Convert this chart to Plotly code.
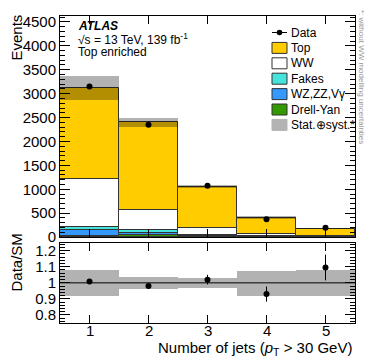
import plotly.graph_objects as go

# number of jets bins
njets = [1, 2, 3, 4, 5]
njets_labels = ["1", "2", "3", "4", "5"]

# stacked SM predictions (events), bottom to top
drell_yan = [25, 38, 10, 5, 3]
wz_zz_vg = [125, 56, 20, 6, 4]
fakes = [70, 56, 15, 6, 3]
ww = [987, 415, 139, 38, 18]
top = [1914, 1835, 868, 345, 150]

# observed data
data = [3149, 2352, 1073, 372, 195]
data_rel_err = [0.015, 0.015, 0.03, 0.047, 0.08]

# relative stat+syst uncertainty (without WW modelling)
unc_rel = [0.083, 0.038, 0.032, 0.078, 0.083]

FONT = "Liberation Sans, Arial, sans-serif"
BAND = "rgba(0,0,0,0.3)"

components = [
    ("Drell-Yan", drell_yan, "#339900"),
    ("WZ,ZZ,Vγ", wz_zz_vg, "#3399ff"),
    ("Fakes", fakes, "#44e3dc"),
    ("WW", ww, "#ffffff"),
    ("Top", top, "#ffcc00"),
]

# the page body has an 8px margin, so the figure is shifted by that much
OFF = 8
W, H = 374 - OFF, 363 - OFF
# plot area in window pixels
L, R, T, B = 60, 355, 16, 323


def px(x):
    return (x - L) / (R - L)


def py(y):
    return (B - y) / (B - T)


fig = go.Figure()

base = [0.0] * len(njets)
for name, vals, col in components:
    fig.add_trace(go.Bar(
        x=njets, y=vals, base=list(base), width=1, name=name, showlegend=False,
        marker=dict(color=col, line=dict(color="#333333", width=1)),
        xaxis="x", yaxis="y",
    ))
    base = [b + v for b, v in zip(base, vals)]
total = base

# uncertainty band on the stack
err = [t * u for t, u in zip(total, unc_rel)]
fig.add_trace(go.Bar(
    x=njets, y=[2 * e for e in err], base=[t - e for t, e in zip(total, err)],
    width=1, showlegend=False, marker=dict(color=BAND, line=dict(width=0)),
    xaxis="x", yaxis="y",
))

# data in main panel
fig.add_trace(go.Scatter(
    x=njets, y=data, mode="markers", showlegend=False,
    marker=dict(color="black", size=6),
    error_y=dict(type="data", array=[d * r for d, r in zip(data, data_rel_err)],
                 color="black", thickness=1, width=0),
    xaxis="x", yaxis="y",
))

# ratio panel
ratio = [d / t for d, t in zip(data, total)]
fig.add_trace(go.Bar(
    x=njets, y=[2 * u for u in unc_rel], base=[1 - u for u in unc_rel], width=1,
    marker=dict(color=BAND, line=dict(width=0)), showlegend=False,
    xaxis="x2", yaxis="y2",
))
fig.add_trace(go.Scatter(
    x=njets, y=ratio, mode="markers", showlegend=False,
    marker=dict(color="black", size=6),
    error_y=dict(type="data", array=data_rel_err, color="black", thickness=1, width=0),
    xaxis="x2", yaxis="y2",
))

common_x = dict(range=[0.5, 5.5], tickvals=njets, ticks="inside", ticklen=8,
                showline=True, linecolor="black", linewidth=1, mirror="allticks",
                showgrid=False, zeroline=False, tickcolor="black", automargin=False,
                showticklabels=False)
common_y = dict(ticks="inside", ticklen=10, showline=True, linecolor="black",
                linewidth=1, mirror="allticks", showgrid=False, zeroline=False,
                tickcolor="black", automargin=False)

shapes = [dict(type="line", xref="x2 domain", yref="y2", x0=0, x1=1, y0=1, y1=1,
               line=dict(color="black", width=1))]

# legend drawn by hand (ROOT-style compact spacing)
leg_entries = [("Data", None), ("Top", "#ffcc00"), ("WW", "#ffffff"),
               ("Fakes", "#44e3dc"), ("WZ,ZZ,Vγ", "#3399ff"),
               ("Drell-Yan", "#339900"), ("Stat.⊕syst.*", "#b3b3b3")]
leg_x0, leg_x1, leg_y0, leg_dy = 272, 287, 32.5, 15.4
annots = []
for i, (label, col) in enumerate(leg_entries):
    yc = leg_y0 + i * leg_dy
    if col is None:
        shapes.append(dict(type="line", xref="paper", yref="paper",
                           x0=px(leg_x0), x1=px(leg_x1), y0=py(yc), y1=py(yc),
                           line=dict(color="black", width=1)))
        shapes.append(dict(type="circle", xref="paper", yref="paper",
                           x0=px(279.5 - 2.8), x1=px(279.5 + 2.8),
                           y0=py(yc + 2.8), y1=py(yc - 2.8),
                           fillcolor="black", line=dict(color="black", width=0)))
    else:
        lc = "#b3b3b3" if label.startswith("Stat") else "#333333"
        shapes.append(dict(type="rect", xref="paper", yref="paper",
                           x0=px(leg_x0), x1=px(leg_x1), y0=py(yc + 5.5), y1=py(yc - 5.5),
                           fillcolor=col, line=dict(color=lc, width=1)))
    annots.append(dict(text=label, x=px(leg_x1 + 2), y=py(yc), font=dict(size=12)))

fig.update_layout(
    width=W, height=H,
    margin=dict(l=L - OFF, r=OFF + W - R, t=T - OFF, b=OFF + H - B, autoexpand=False),
    paper_bgcolor="white", plot_bgcolor="white",
    barmode="overlay", bargap=0,
    font=dict(family=FONT, size=15, color="black"),
    showlegend=False,
    xaxis=dict(**common_x, domain=[0, 1], anchor="y"),
    yaxis=dict(**common_y, domain=[0.28, 1], anchor="x", range=[0, 4625],
               dtick=500, tick0=0,
               minor=dict(dtick=100, ticks="inside", ticklen=5, tickcolor="black")),
    xaxis2=dict(**common_x, domain=[0, 1], anchor="y2", matches="x"),
    yaxis2=dict(**common_y, domain=[0, 0.2616], anchor="x2", range=[0.75, 1.25],
                tickvals=[0.8, 0.9, 1.0, 1.1, 1.2],
                ticktext=["0.8", "0.9", "1", "1.1", "1.2"],
                minor=dict(dtick=0.02, tick0=0.8, ticks="inside", ticklen=5,
                           tickcolor="black")),
    shapes=shapes,
)

annots += [
    dict(text="<b><i>ATLAS</i></b>", x=px(76), y=py(26), font=dict(size=12)),
    dict(text="√s = 13 TeV, 139 fb<sup>-1</sup>", x=px(76), y=py(38.5), font=dict(size=12)),
    dict(text="Top enriched", x=px(76), y=py(51.5), font=dict(size=12)),
]
for a in annots:
    fig.add_annotation(xref="paper", yref="paper", xanchor="left", yanchor="middle",
                       showarrow=False, **a)

# x tick labels placed close to the axis, ROOT style
for xv, lab in zip(njets, njets_labels):
    fig.add_annotation(text=lab, xref="x2", yref="paper", x=xv, y=py(330.5),
                       xanchor="center", yanchor="middle", showarrow=False,
                       font=dict(size=15))

fig.add_annotation(text="Events", xref="paper", yref="paper", x=px(15.5), y=py(13),
                   xanchor="center", yanchor="top", textangle=-90, showarrow=False,
                   font=dict(size=15))
fig.add_annotation(text="Data/SM", xref="paper", yref="paper", x=px(15.5), y=py(232),
                   xanchor="center", yanchor="top", textangle=-90, showarrow=False,
                   font=dict(size=15))
fig.add_annotation(text="Number of jets (<i>p</i><sub>T</sub> > 30 GeV)", xref="paper",
                   yref="paper", x=px(354), y=py(348), xanchor="right", yanchor="middle",
                   showarrow=False, font=dict(size=15))
fig.add_annotation(text="*: without WW modelling uncertainties", xref="paper",
                   yref="paper", x=px(362), y=py(8), xanchor="center", yanchor="top",
                   textangle=90, showarrow=False, font=dict(size=8, color="#999999"))

fig.write_html("out.html")
